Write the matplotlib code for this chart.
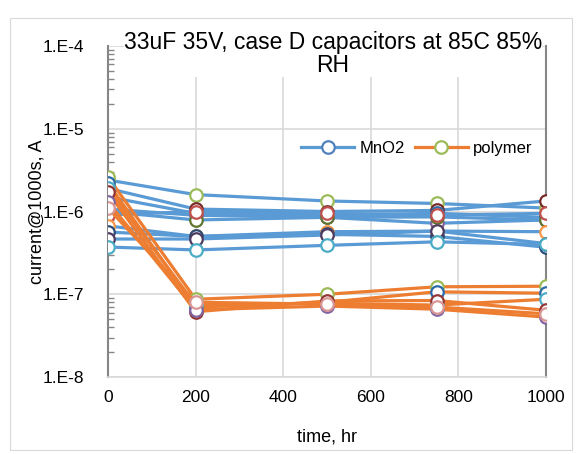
import matplotlib
matplotlib.use("Agg")
import matplotlib.pyplot as plt
from matplotlib.patches import Rectangle

plt.rcParams['font.family'] = ['Liberation Sans', 'DejaVu Sans']

time_hr = [0, 200, 500, 750, 1000]

mno2_series = [
    [2.4e-6, 1.6e-6, 1.34e-6, 1.25e-6, 1.1e-6],
    [1.9e-6, 1.07e-6, 1.0e-6, 1.03e-6, 1.34e-6],
    [1.5e-6, 9.5e-7, 9.0e-7, 9.5e-7, 8.5e-7],
    [1.07e-6, 9.0e-7, 8.5e-7, 7.2e-7, 7.9e-7],
    [1.0e-6, 7.9e-7, 8.5e-7, 8.6e-7, 7.9e-7],
    [9.1e-7, 1.0e-6, 9.5e-7, 9.0e-7, 9.5e-7],
    [6.7e-7, 5.0e-7, 5.7e-7, 5.8e-7, 5.7e-7],
    [5.65e-7, 5.0e-7, 5.3e-7, 5.0e-7, 3.7e-7],
    [4.65e-7, 4.65e-7, 5.2e-7, 5.8e-7, 4.1e-7],
    [3.72e-7, 3.43e-7, 3.9e-7, 4.3e-7, 4.0e-7],
]
mno2_marker_colors = ['#9BBB59', '#772C2A', '#2C6AA8', '#8064A2', '#5F7530',
                      '#C0504D', '#F79646', '#2C4D75', '#4D3B62', '#4BACC6']

polymer_series = [
    [2.6e-6, 8.7e-8, 1.0e-7, 1.23e-7, 1.25e-7],
    [2.2e-6, 7.0e-8, 8.0e-8, 1.07e-7, 1.03e-7],
    [1.9e-6, 7.5e-8, 7.8e-8, 7.4e-8, 8.7e-8],
    [1.7e-6, 6.15e-8, 8.3e-8, 8.4e-8, 6.4e-8],
    [1.3e-6, 6.5e-8, 7.2e-8, 6.6e-8, 5.3e-8],
    [1.1e-6, 8.0e-8, 7.6e-8, 7.0e-8, 5.8e-8],
]
polymer_marker_colors = ['#9BBB59', '#2C6AA8', '#4BACC6', '#943634', '#8064A2', '#D99694']

title = "33uF 35V, case D capacitors at 85C 85%\nRH"
ytick_vals = [1e-8, 1e-7, 1e-6, 1e-5, 1e-4]
ytick_labels = ["1.E-8", "1.E-7", "1.E-6", "1.E-5", "1.E-4"]
xtick_vals = [0, 200, 400, 600, 800, 1000]

W, H = 576, 454
fig = plt.figure(figsize=(W / 100, H / 100), dpi=100)
fig.patches.append(Rectangle((10 / W, 4 / H), 562 / W, 432 / H, transform=fig.transFigure,
                             fill=False, edgecolor='#d9d9d9', linewidth=0.8))
ax = fig.add_axes([108 / W, 77 / H, 438 / W, 331 / H])

lw = 2.3
ms = 9
mew = 1.6
for vals, mc in zip(mno2_series, mno2_marker_colors):
    ax.plot(time_hr, vals, color='#5B9BD5', lw=lw, marker='o', ms=ms,
            mfc='white', mec=mc, mew=mew, zorder=3)
for vals, mc in zip(polymer_series, polymer_marker_colors):
    ax.plot(time_hr, vals, color='#ED7D31', lw=lw, marker='o', ms=ms,
            mfc='white', mec=mc, mew=mew, zorder=3)

ax.set_yscale('log')
ax.set_ylim(1e-8, 1e-4)
ax.set_xlim(0, 1000)
ax.set_yticks(ytick_vals)
ax.set_yticklabels(ytick_labels)
ax.set_xticks(xtick_vals)
ax.tick_params(axis='both', labelsize=12.5, colors='#000000')
ax.tick_params(axis='y', which='major', direction='in', length=0, pad=17)
ax.tick_params(axis='y', which='minor', direction='in', length=4, color='#868686', width=1)
ax.tick_params(axis='x', which='major', length=0, pad=9)
ax.grid(True, which='major', color='#d9d9d9', lw=1.2, zorder=0)
ax.set_axisbelow(True)
ax.spines['top'].set_visible(False)
ax.spines['left'].set_color('#868686')
ax.spines['left'].set_linewidth(1.5)
ax.spines['right'].set_color('#868686')
ax.spines['right'].set_linewidth(1.5)
ax.spines['bottom'].set_color('#d9d9d9')
ax.spines['bottom'].set_linewidth(1.2)

ax.set_xlabel('time, hr', fontsize=13)
ax.set_ylabel('current@1000s, A', fontsize=13)
ax.xaxis.set_label_coords(0.5, (377 - 437) / 331, transform=ax.transAxes)
ax.yaxis.set_label_coords((37 - 108) / 438, 0.5, transform=ax.transAxes)
ax.xaxis.label.set_va('center')
ax.yaxis.label.set_va('center')

legend_handles = [
    plt.Line2D([], [], color='#5B9BD5', lw=lw, marker='o', ms=ms, mfc='white', mec='#4F81BD', mew=mew),
    plt.Line2D([], [], color='#ED7D31', lw=lw, marker='o', ms=ms, mfc='white', mec='#9BBB59', mew=mew),
]
ax.legend(handles=legend_handles, labels=['MnO2', 'polymer'], loc='center',
          bbox_to_anchor=(0.705, 0.69), ncol=2, frameon=False, fontsize=12,
          handlelength=3.2, columnspacing=0.6, handletextpad=0.3)

fig.text(333 / W, 1 - 54 / H, title, ha='center', va='center', fontsize=16.5,
         linespacing=1.0, bbox=dict(facecolor='white', edgecolor='none', pad=0))

fig.savefig('out.png', dpi=100)
